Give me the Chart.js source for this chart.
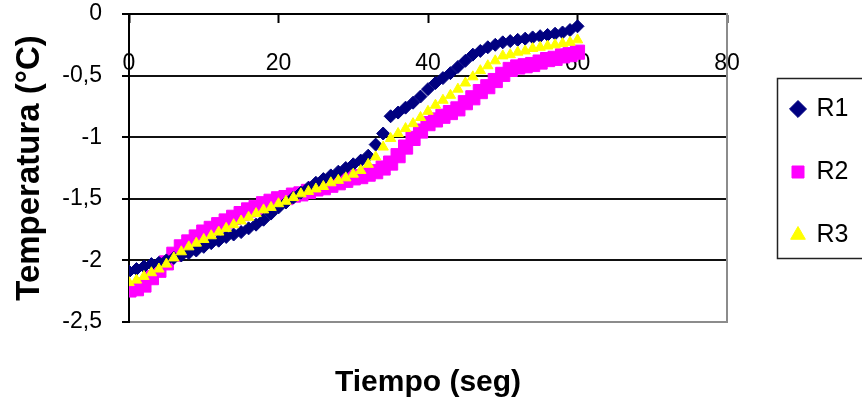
<!DOCTYPE html>
<html lang="es">
<head>
<meta charset="utf-8">
<title>Temperatura vs tiempo</title>
<script src="https://cdn.jsdelivr.net/npm/chart.js@4.4.1/dist/chart.umd.min.js"></script>
<style>
  html, body { margin: 0; padding: 0; background: #fff; }
  #wrap { width: 862px; height: 410px; }
</style>
</head>
<body>
<div id="wrap"><canvas id="grafico" width="862" height="410"></canvas></div>
<script>
// Tiempo de muestreo (seg)
const tiempo = [
  0, 1, 2, 3, 4, 5, 6, 7, 8, 9,
  10, 11, 12, 13, 14, 15, 16, 17, 18, 19,
  20, 21, 22, 23, 24, 25, 26, 27, 28, 29,
  30, 31, 32, 33, 34, 35, 36, 37, 38, 39,
  40, 41, 42, 43, 44, 45, 46, 47, 48, 49,
  50, 51, 52, 53, 54, 55, 56, 57, 58, 59,
  60
];

// Temperaturas (ºC) de cada repetición
const r1 = [
  -2.09, -2.07, -2.05, -2.03, -2.02, -2.00, -1.98, -1.96, -1.94, -1.92,
  -1.89, -1.86, -1.84, -1.81, -1.79, -1.77, -1.74, -1.71, -1.67, -1.62,
  -1.57, -1.53, -1.49, -1.45, -1.41, -1.37, -1.34, -1.31, -1.28, -1.25,
  -1.22, -1.19, -1.15, -1.06, -0.97, -0.83, -0.80, -0.76, -0.72, -0.67,
  -0.61, -0.56, -0.52, -0.48, -0.43, -0.38, -0.33, -0.30, -0.27, -0.25,
  -0.23, -0.22, -0.21, -0.20, -0.19, -0.18, -0.17, -0.16, -0.15, -0.13,
  -0.10
];
const r2 = [
  -2.24, -2.23, -2.20, -2.14, -2.08, -2.02, -1.95, -1.89, -1.85, -1.81,
  -1.77, -1.74, -1.71, -1.68, -1.65, -1.62, -1.59, -1.57, -1.54, -1.52,
  -1.50, -1.49, -1.47, -1.46, -1.44, -1.42, -1.41, -1.39, -1.37, -1.35,
  -1.33, -1.32, -1.30, -1.28, -1.25, -1.21, -1.15, -1.08, -1.01, -0.95,
  -0.89, -0.86, -0.83, -0.80, -0.77, -0.72, -0.68, -0.63, -0.59, -0.54,
  -0.49, -0.45, -0.43, -0.42, -0.41, -0.39, -0.37, -0.36, -0.34, -0.33,
  -0.31
];
const r3 = [
  -2.18, -2.16, -2.13, -2.10, -2.07, -2.03, -1.98, -1.93, -1.89, -1.86,
  -1.83, -1.80, -1.77, -1.74, -1.71, -1.68, -1.65, -1.62, -1.59, -1.57,
  -1.54, -1.52, -1.49, -1.46, -1.44, -1.42, -1.40, -1.37, -1.35, -1.33,
  -1.30, -1.27, -1.22, -1.16, -1.08, -1.01, -0.97, -0.93, -0.89, -0.84,
  -0.79, -0.74, -0.70, -0.66, -0.61, -0.56, -0.51, -0.46, -0.42, -0.38,
  -0.34, -0.33, -0.31, -0.30, -0.28, -0.27, -0.26, -0.25, -0.24, -0.23,
  -0.21
];

const ticksX = [0, 20, 40, 60, 80];
const ticksY = [0, -0.5, -1, -1.5, -2, -2.5];

const FUENTE = "'Liberation Sans', Arial, sans-serif";

const puntos = (serie) => tiempo.map((t, i) => ({ x: t, y: serie[i] }));

// Recoloca la leyenda y le dibuja el marco
const marcoLeyenda = {
    id: 'marcoLeyenda',
    afterLayout(chart) {
        const lg = chart.legend;
        const dx = 754 - lg.left;
        const dy = 58.5 - lg.top;
        lg.left += dx; lg.right += dx;
        lg.top += dy; lg.bottom += dy;
    },
    afterDraw(chart) {
        const ctx = chart.ctx;
        ctx.save();
        ctx.strokeStyle = '#222';
        ctx.lineWidth = 1.5;
        ctx.strokeRect(777.5, 78.5, 100, 180);
        ctx.restore();
    }
};

new Chart(document.getElementById('grafico'), {
    type: 'scatter',
    data: {
        datasets: [
            {
                label: 'R1',
                data: puntos(r1),
                pointStyle: 'rectRot',
                pointRadius: 6.5,
                backgroundColor: '#000080',
                borderColor: '#000080',
                borderWidth: 1,
                order: 1
            },
            {
                label: 'R2',
                data: puntos(r2),
                pointStyle: 'rect',
                pointRadius: 10,
                backgroundColor: '#ff00ff',
                borderColor: '#ff00ff',
                borderWidth: 1,
                order: 2
            },
            {
                label: 'R3',
                data: puntos(r3),
                pointStyle: 'triangle',
                pointRadius: 6,
                backgroundColor: '#ffff00',
                borderColor: '#ffff00',
                borderWidth: 1,
                order: 0
            }
        ]
    },
    options: {
        responsive: false,
        devicePixelRatio: 1,
        animation: false,
        clip: { left: 0, top: false, right: false, bottom: false },
        layout: { padding: { left: 0, top: 14, right: 0, bottom: 9 } },
        plugins: {
            tooltip: { enabled: false },
            legend: {
                position: 'right',
                align: 'start',
                labels: {
                    usePointStyle: true,
                    boxWidth: 12,
                    boxHeight: 12,
                    padding: 38,
                    color: '#000',
                    font: { family: FUENTE, size: 25 },
                    sort: (a, b) => a.datasetIndex - b.datasetIndex
                }
            }
        },
        scales: {
            x: {
                type: 'linear',
                position: { y: 0 },
                min: 0,
                max: 80,
                afterBuildTicks: (scale) => { scale.ticks = ticksX.map(v => ({ value: v })); },
                afterFit: (scale) => { scale.paddingRight = 135; },
                grid: {
                    drawOnChartArea: false,
                    drawTicks: true,
                    tickLength: 8,
                    tickColor: '#000',
                    tickWidth: 2
                },
                border: { display: true, color: '#000', width: 2 },
                ticks: {
                    color: '#000',
                    padding: 28,
                    maxRotation: 0,
                    font: { family: FUENTE, size: 23 }
                }
            },
            xTitulo: {
                type: 'linear',
                position: 'bottom',
                min: 0,
                max: 80,
                grid: { display: false, drawTicks: false },
                border: { display: true, color: '#8c8c8c', width: 2 },
                ticks: { display: false },
                title: {
                    display: true,
                    text: 'Tiempo (seg)',
                    color: '#000',
                    font: { family: FUENTE, size: 30, weight: 'bold' },
                    padding: { top: 43, bottom: 0 }
                }
            },
            y: {
                type: 'linear',
                position: 'left',
                min: -2.5,
                max: 0,
                afterBuildTicks: (scale) => { scale.ticks = ticksY.map(v => ({ value: v })); },
                afterFit: (scale) => {
                    scale.width = 129;
                    scale.paddingTop = 0;
                    scale.paddingBottom = 0;
                },
                grid: {
                    color: (c) => (c.tick && c.tick.value === -2.5 ? '#8c8c8c' : '#111'),
                    lineWidth: 2,
                    drawTicks: true,
                    tickLength: 7,
                    tickColor: '#000',
                    tickWidth: 2
                },
                border: { display: true, color: '#000', width: 2 },
                ticks: {
                    color: '#000',
                    padding: 20,
                    font: { family: FUENTE, size: 23 },
                    callback: (v) => String(v).replace('.', ',')
                },
                title: {
                    display: true,
                    text: 'Temperatura (°C)',
                    color: '#000',
                    font: { family: FUENTE, size: 33, weight: 'bold' },
                    padding: { top: 10, bottom: 0 }
                }
            },
            yBorde: {
                type: 'linear',
                position: 'right',
                min: -2.5,
                max: 0,
                grid: { display: false, drawTicks: false },
                border: { display: true, color: '#8c8c8c', width: 2 },
                ticks: { display: false }
            }
        }
    },
    plugins: [marcoLeyenda]
});
</script>
</body>
</html>
